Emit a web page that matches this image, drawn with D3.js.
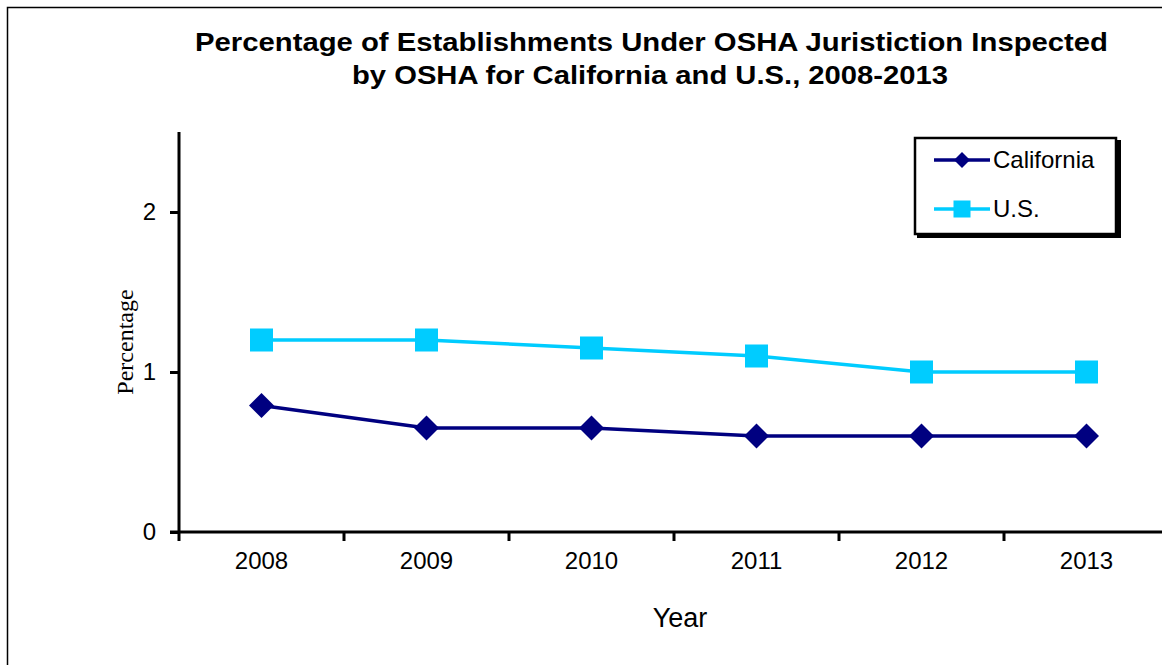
<!DOCTYPE html>
<html><head><meta charset="utf-8">
<script src="https://cdn.jsdelivr.net/npm/d3@7"></script>
<style>body{margin:0;background:#fff}svg{display:block}</style>
</head><body>
<script>
const years = ["2008","2009","2010","2011","2012","2013"];
const california = [0.79, 0.65, 0.65, 0.60, 0.60, 0.60];
const us = [1.20, 1.20, 1.15, 1.10, 1.00, 1.00];
const yTicks = [0, 1, 2];
const titleLines = ["Percentage of Establishments Under OSHA Juristiction Inspected", "by OSHA for California and U.S., 2008-2013"];

const W = 1162, H = 665;
const svg = d3.select("body").append("svg").attr("width", W).attr("height", H);
svg.append("rect").attr("width", W).attr("height", H).attr("fill", "#fff");
// outer chart border (extends beyond the visible area on right/bottom)
svg.append("rect").attr("x", 7.5).attr("y", 7.5).attr("width", 1200).attr("height", 700)
  .attr("fill", "none").attr("stroke", "#000").attr("stroke-width", 1.5);

const pLeft = 179, pRight = 1169, pTop = 132, pBottom = 532;
const x = d3.scaleBand().domain(years).range([pLeft, pRight]);
const y = d3.scaleLinear().domain([0, 2.5]).range([pBottom, pTop]);

const font = "Arial, 'Liberation Sans', sans-serif";

// title (stretched horizontally like the original)
const titleWidths = [913, 596];
const titleCenters = [651.5, 650];
svg.append("g").selectAll("text").data(titleLines).join("text")
  .attr("x", (d, i) => titleCenters[i]).attr("y", (d, i) => 51 + i * 33)
  .attr("text-anchor", "middle").attr("font-family", font).attr("font-weight", "bold")
  .attr("font-size", 25).attr("fill", "#000")
  .attr("textLength", (d, i) => titleWidths[i]).attr("lengthAdjust", "spacingAndGlyphs")
  .text(d => d);

// y axis
const yAxis = d3.axisLeft(y).tickValues(yTicks).tickSize(9).tickPadding(14).tickFormat(d3.format("d"));
const gy = svg.append("g").attr("transform", `translate(${pLeft},0)`).call(yAxis);
gy.select(".domain").attr("stroke", "#000").attr("stroke-width", 3).attr("d", `M0,${pTop}V${pBottom + 9}`);
gy.selectAll(".tick line").attr("stroke", "#000").attr("stroke-width", 3);
gy.selectAll(".tick text").attr("font-family", font).attr("font-size", 24).attr("fill", "#000");

// x axis
const xAxis = d3.axisBottom(x).tickSize(0).tickPadding(20);
const gx = svg.append("g").attr("transform", `translate(0,${pBottom})`).call(xAxis);
gx.select(".domain").attr("stroke", "#000").attr("stroke-width", 3).attr("d", `M${pLeft - 9},0H${pRight}`);
gx.selectAll(".tick text").attr("font-family", font).attr("font-size", 24).attr("fill", "#000").attr("dy", "0.71em");
gx.selectAll("line.bt").data(years.slice(1)).join("line").attr("class", "bt")
  .attr("x1", d => x(d)).attr("x2", d => x(d)).attr("y1", 0).attr("y2", 9)
  .attr("stroke", "#000").attr("stroke-width", 3);

// axis labels
svg.append("text").attr("x", 680).attr("y", 627).attr("text-anchor", "middle")
  .attr("font-family", font).attr("font-size", 27).attr("fill", "#000").text("Year");
svg.append("text").attr("transform", "translate(133,342) rotate(-90)").attr("text-anchor", "middle")
  .attr("font-family", "'Times New Roman', 'Liberation Serif', serif").attr("font-size", 24).attr("fill", "#000").text("Percentage");

const cx = d => x(d) + x.bandwidth() / 2;
const line = d3.line().x(d => cx(d.year)).y(d => y(d.v));

const series = [
  { name: "California", values: california, color: "#000080", marker: "diamond" },
  { name: "U.S.", values: us, color: "#00CCFF", marker: "square" }
];

function drawMarker(g, type, color) {
  if (type === "diamond") {
    g.append("path").attr("d", "M0,-12.5L12.5,0L0,12.5L-12.5,0Z").attr("fill", color);
  } else {
    g.append("rect").attr("x", -11.5).attr("y", -11.5).attr("width", 23).attr("height", 23).attr("fill", color);
  }
}

series.slice().reverse().forEach(s => {
  const pts = years.map((yr, i) => ({ year: yr, v: s.values[i] }));
  svg.append("path").datum(pts).attr("d", line).attr("fill", "none")
    .attr("stroke", s.color).attr("stroke-width", 3.5);
  pts.forEach(p => {
    const g = svg.append("g").attr("transform", `translate(${cx(p.year)},${y(p.v)})`);
    drawMarker(g, s.marker, s.color);
  });
});

// legend
const lg = svg.append("g");
lg.append("path").attr("d", "M1119,140V236H917").attr("fill", "none").attr("stroke", "#000").attr("stroke-width", 4);
lg.append("rect").attr("x", 915).attr("y", 138).attr("width", 201).attr("height", 96)
  .attr("fill", "#fff").attr("stroke", "#000").attr("stroke-width", 2.5);
series.forEach((s, i) => {
  const ly = 160 + i * 49;
  lg.append("line").attr("x1", 934).attr("x2", 990).attr("y1", ly).attr("y2", ly)
    .attr("stroke", s.color).attr("stroke-width", 3.5);
  const g = lg.append("g").attr("transform", `translate(962,${ly})`);
  if (s.marker === "diamond") g.append("path").attr("d", "M0,-8L8,0L0,8L-8,0Z").attr("fill", s.color);
  else g.append("rect").attr("x", -8.5).attr("y", -8.5).attr("width", 17).attr("height", 17).attr("fill", s.color);
  lg.append("text").attr("x", 993).attr("y", ly + 8).attr("font-family", font).attr("font-size", 24)
    .attr("fill", "#000").text(s.name);
});
</script>
</body></html>
